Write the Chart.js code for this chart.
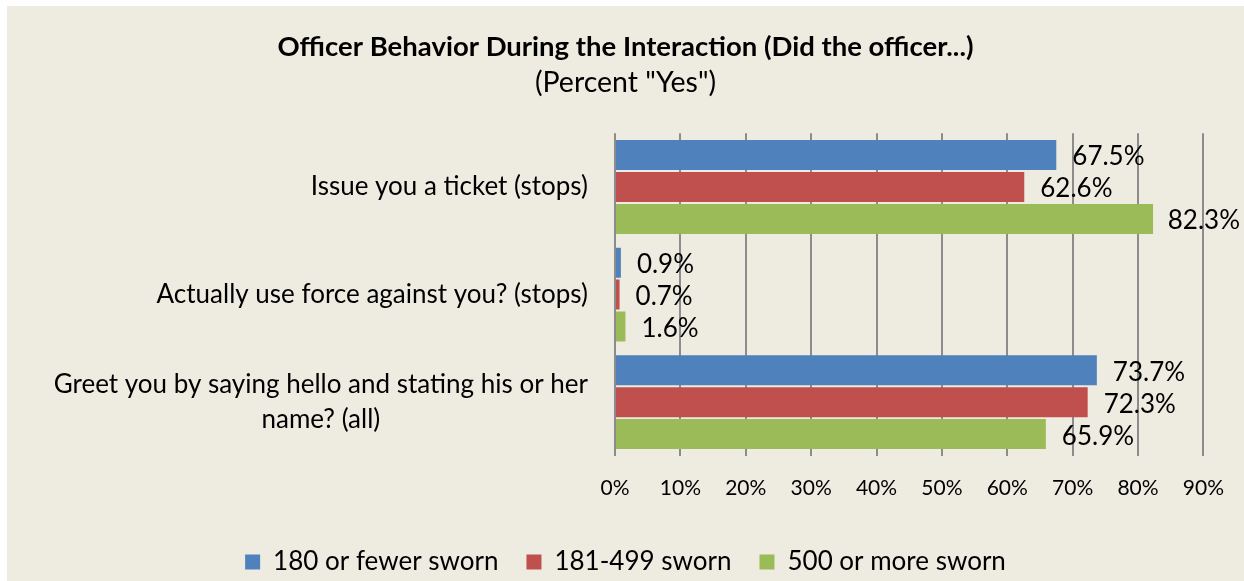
<!DOCTYPE html>
<html lang="en">
<head>
  <meta charset="UTF-8">
  <title>Officer Behavior During the Interaction</title>
  <script src="https://cdn.jsdelivr.net/npm/chart.js"></script>
  <style>
    body { margin: 0; background: #fff; }
    #wrap {
      position: absolute;
      left: 7px;
      top: 6px;
      width: 1237px;
      height: 575px;
      background: #EEECE1;
    }
  </style>
</head>
<body>

<div id="wrap"><canvas id="myChart"></canvas></div>

<script>
  // Data for the chart
  const categories = [
    ['Issue you a ticket (stops)'],
    ['Actually use force against you? (stops)'],
    ['Greet you by saying hello and stating his or her', 'name? (all)']
  ];
  const seriesNames = ['180 or fewer sworn', '181-499 sworn', '500 or more sworn'];
  const fewerThan180 = [67.5, 0.9, 73.7];
  const from181to499 = [62.6, 0.7, 72.3];
  const over500 = [82.3, 1.6, 65.9];
  const colors = ['#4F81BD', '#C0504D', '#9BBB59'];

  const FONT = 'Lato, Carlito, Calibri, sans-serif';

  // y labels drawn by hand so the two-line one is centered like Excel does it
  const yLabels = {
    id: 'yLabels',
    afterDraw(chart) {
      const ctx = chart.ctx;
      const y = chart.scales.y;
      const right = y.right - 27;
      ctx.save();
      ctx.font = '26px ' + FONT;
      ctx.fillStyle = '#000';
      ctx.textBaseline = 'middle';
      ctx.textAlign = 'center';
      categories.forEach((lines, i) => {
        const cy = y.getPixelForValue(i);
        const w = Math.max(...lines.map(l => ctx.measureText(l).width));
        const cx = right - w / 2;
        const lh = 35;
        lines.forEach((l, j) => {
          ctx.fillText(l, cx, cy + (j - (lines.length - 1) / 2) * lh);
        });
      });
      ctx.restore();
    }
  };

  // value labels at the bar ends
  const valueLabels = {
    id: 'valueLabels',
    afterDatasetsDraw(chart) {
      const ctx = chart.ctx;
      ctx.save();
      ctx.font = '26px ' + FONT;
      ctx.fillStyle = '#000';
      ctx.textBaseline = 'middle';
      ctx.textAlign = 'left';
      chart.data.datasets.forEach((ds, di) => {
        chart.getDatasetMeta(di).data.forEach((bar, i) => {
          const txt = ds.data[i].toFixed(1) + '%';
          const w = ctx.measureText(txt).width;
          let x = bar.x + 16;
          if (x + w > chart.width - 4) x = chart.width - 4 - w;
          ctx.fillText(txt, x, bar.y + 2);
        });
      });
      ctx.restore();
    }
  };

  // nudge the legend down a little, as in the original
  const legendShift = {
    id: 'legendShift',
    afterLayout(chart) {
      chart.legend.top += 4;
      chart.legend.bottom += 4;
    }
  };

  const config = {
    type: 'bar',
    data: {
      labels: categories.map(c => c.join(' ')),
      datasets: [
        { label: seriesNames[0], data: fewerThan180, backgroundColor: colors[0] },
        { label: seriesNames[1], data: from181to499, backgroundColor: colors[1] },
        { label: seriesNames[2], data: over500, backgroundColor: colors[2] }
      ]
    },
    options: {
      indexAxis: 'y',
      responsive: true,
      maintainAspectRatio: false,
      animation: false,
      categoryPercentage: 0.89,
      barPercentage: 0.94,
      layout: { padding: { left: 37, right: 37, top: 0, bottom: 0 } },
      plugins: {
        title: {
          display: true,
          text: 'Officer Behavior During the Interaction (Did the officer...)',
          color: '#000',
          font: { family: FONT, size: 27.5, weight: 'bold' },
          padding: { top: 25, bottom: 2 }
        },
        subtitle: {
          display: true,
          text: '(Percent "Yes")',
          color: '#000',
          font: { family: FONT, size: 28.5 },
          padding: { top: 0, bottom: 33 }
        },
        legend: {
          position: 'bottom',
          labels: {
            color: '#000',
            font: { family: FONT, size: 26 },
            boxWidth: 15,
            boxHeight: 15,
            padding: 28
          }
        },
        tooltip: { enabled: false }
      },
      scales: {
        x: {
          min: 0,
          max: 90,
          ticks: {
            stepSize: 10,
            color: '#000',
            font: { family: FONT, size: 21 },
            padding: 20,
            callback: v => v + '%'
          },
          grid: { color: '#8C8C8C', lineWidth: 2, drawTicks: false },
          border: { display: false },
          afterFit(scale) { scale.height = 61; }
        },
        y: {
          ticks: { display: false },
          grid: { display: false },
          border: { display: false },
          afterFit(scale) { scale.width = 571; }
        }
      }
    },
    plugins: [yLabels, valueLabels, legendShift]
  };

  const ctx = document.getElementById('myChart').getContext('2d');
  new Chart(ctx, config);
</script>

</body>
</html>
